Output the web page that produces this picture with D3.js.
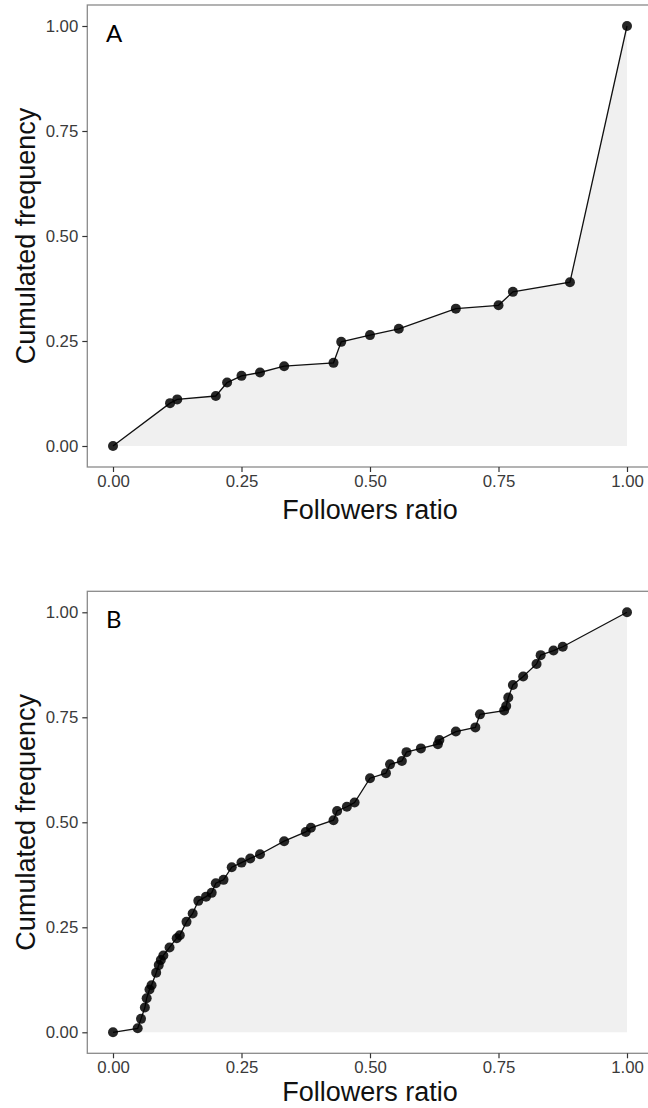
<!DOCTYPE html>
<html>
<head>
<meta charset="utf-8">
<script src="https://cdn.jsdelivr.net/npm/d3@7"></script>
<style>
  html, body { margin: 0; padding: 0; background: #fff; }
  svg { display: block; }
</style>
</head>
<body>
<svg id="chart" width="648" height="1108"></svg>
<script>
// ---- data ----
const panelLabels = ["A", "B"];
const xTitle = "Followers ratio";
const yTitle = "Cumulated frequency";
const tickValues = [0, 0.25, 0.5, 0.75, 1];
const tickLabels = ["0.00", "0.25", "0.50", "0.75", "1.00"];

const ratioA = [0, 0.111, 0.125, 0.2, 0.222, 0.25, 0.286, 0.333, 0.429, 0.444, 0.5, 0.556, 0.667, 0.75, 0.778, 0.889, 1];
const freqA  = [0, 0.102, 0.111, 0.119, 0.151, 0.167, 0.175, 0.190, 0.198, 0.248, 0.264, 0.279, 0.327, 0.335, 0.367, 0.390, 1];

const ratioB = [0, 0.048, 0.0545, 0.062, 0.0655, 0.071, 0.075, 0.084, 0.089, 0.093, 0.098, 0.110, 0.124, 0.130, 0.143, 0.155, 0.166, 0.181, 0.192, 0.200, 0.215, 0.231, 0.250, 0.267, 0.286, 0.333, 0.375, 0.385, 0.429, 0.436, 0.455, 0.470, 0.500, 0.531, 0.539, 0.562, 0.571, 0.599, 0.632, 0.635, 0.667, 0.705, 0.714, 0.761, 0.765, 0.769, 0.778, 0.798, 0.824, 0.832, 0.857, 0.875, 1];
const freqB  = [0, 0.0095, 0.032, 0.059, 0.081, 0.102, 0.112, 0.142, 0.160, 0.172, 0.183, 0.202, 0.224, 0.231, 0.263, 0.283, 0.313, 0.323, 0.332, 0.355, 0.363, 0.393, 0.404, 0.414, 0.424, 0.455, 0.477, 0.487, 0.505, 0.527, 0.537, 0.547, 0.605, 0.617, 0.638, 0.646, 0.667, 0.676, 0.686, 0.696, 0.716, 0.726, 0.757, 0.766, 0.777, 0.797, 0.827, 0.847, 0.877, 0.898, 0.909, 0.918, 1];

const panels = [
  { label: panelLabels[0], xs: ratioA, ys: freqA, top: 0, titleY: 519 },
  { label: panelLabels[1], xs: ratioB, ys: freqB, top: 586.3, titleY: 515 }
];

// ---- drawing ----
const svg = d3.select("#chart");
const font = "'Liberation Sans', Arial, Helvetica, sans-serif";

panels.forEach(p => {
  const g = svg.append("g").attr("transform", `translate(0,${p.top})`);
  const x = d3.scaleLinear().domain([-0.05, 1.05]).range([87.3, 652.7]);
  const y = d3.scaleLinear().domain([-0.05, 1.05]).range([467, 5]);
  const data = p.xs.map((v, i) => ({ x: v, y: p.ys[i] }));

  // area fill
  g.append("path")
    .datum(data)
    .attr("fill", "#f0f0f0")
    .attr("d", d3.area().x(d => x(d.x)).y0(y(0)).y1(d => y(d.y)));

  // line
  g.append("path")
    .datum(data)
    .attr("fill", "none")
    .attr("stroke", "#111")
    .attr("stroke-width", 1.3)
    .attr("d", d3.line().x(d => x(d.x)).y(d => y(d.y)));

  // points
  g.selectAll("circle.pt").data(data).enter().append("circle")
    .attr("class", "pt")
    .attr("cx", d => x(d.x)).attr("cy", d => y(d.y))
    .attr("r", 5)
    .attr("fill", "#000").attr("fill-opacity", 0.85);

  // panel border
  g.append("rect")
    .attr("x", x.range()[0]).attr("y", y.range()[1])
    .attr("width", x.range()[1] - x.range()[0])
    .attr("height", y.range()[0] - y.range()[1])
    .attr("fill", "none").attr("stroke", "#8a8a8a").attr("stroke-width", 1.3);

  // axes
  const xAxis = d3.axisBottom(x).tickValues(tickValues)
    .tickFormat((d, i) => tickLabels[i]).tickSize(5).tickPadding(3);
  const yAxis = d3.axisLeft(y).tickValues(tickValues)
    .tickFormat((d, i) => tickLabels[i]).tickSize(5).tickPadding(4);

  const gx = g.append("g").attr("transform", `translate(0,${y.range()[0]})`).call(xAxis);
  const gy = g.append("g").attr("transform", `translate(${x.range()[0]},0)`).call(yAxis);
  [gx, gy].forEach(a => {
    a.select(".domain").remove();
    a.selectAll(".tick line").attr("stroke", "#333").attr("stroke-width", 1.2);
    a.selectAll(".tick text").attr("fill", "#3a3a3a")
      .style("font-family", font).style("font-size", "16.8px");
  });

  // axis titles
  g.append("text")
    .attr("x", (x(0) + x(1)) / 2).attr("y", p.titleY)
    .attr("text-anchor", "middle")
    .style("font-family", font).style("font-size", "27px").attr("fill", "#111")
    .text(xTitle);
  g.append("text")
    .attr("transform", `translate(35,${(y(0) + y(1)) / 2}) rotate(-90)`)
    .attr("text-anchor", "middle")
    .style("font-family", font).style("font-size", "27px").attr("fill", "#111")
    .text(yTitle);

  // panel letter
  g.append("text")
    .attr("x", 106).attr("y", 42)
    .style("font-family", "Lato, 'Open Sans', sans-serif").style("font-size", "24px").attr("fill", "#000")
    .text(p.label);
});
</script>
</body>
</html>
